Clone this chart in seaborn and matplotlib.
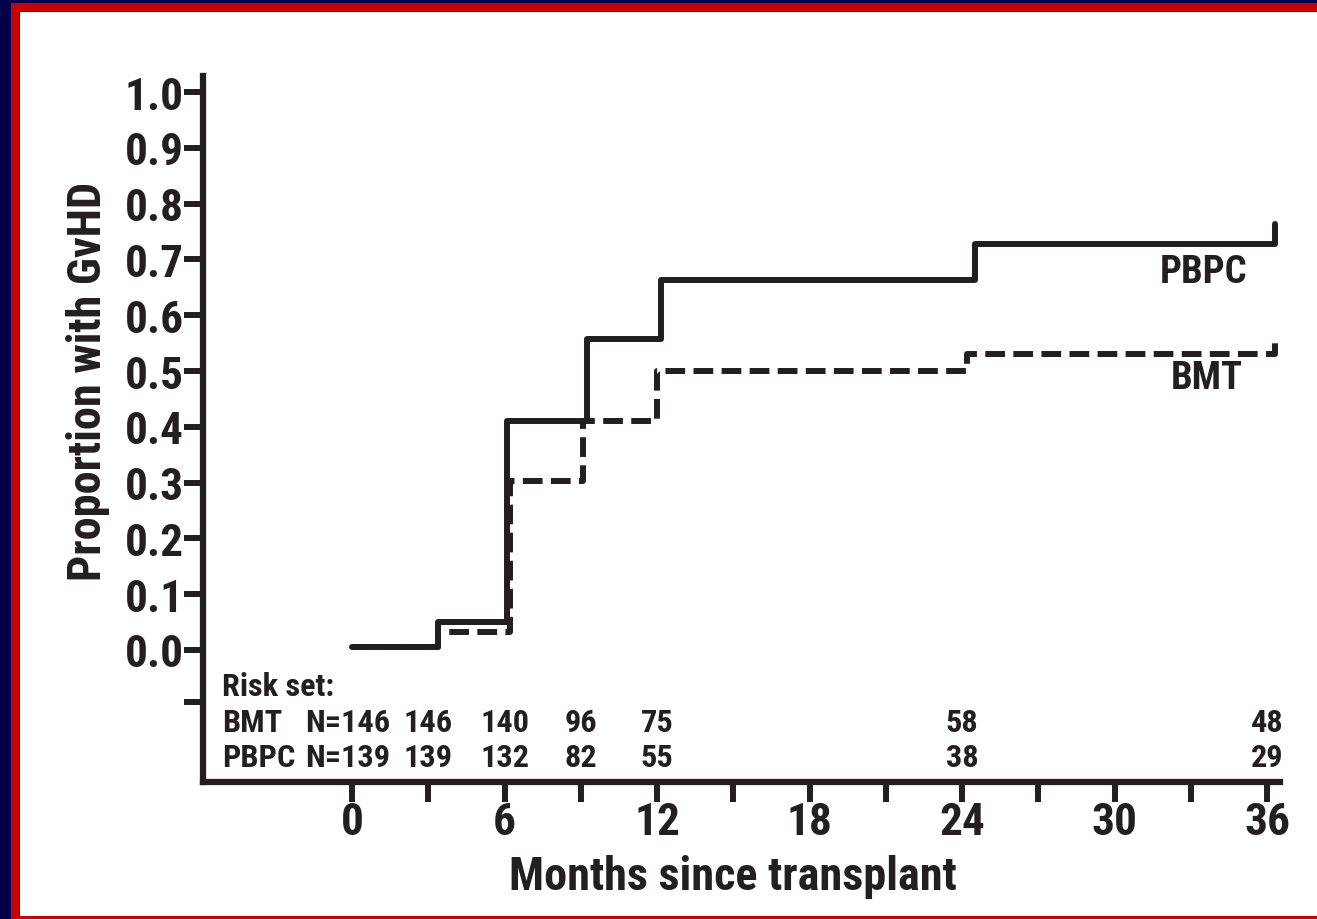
import numpy as np
import pandas as pd
import seaborn as sns
import matplotlib
matplotlib.use("Agg")
import matplotlib.pyplot as plt
from matplotlib import font_manager
from matplotlib.patches import Rectangle

# ---------------- data ----------------
pbpc_months = [0, 3.4, 6.1, 9.25, 12.15, 24.5, 36.3]
pbpc_prop = [0.005, 0.05, 0.41, 0.557, 0.663, 0.728, 0.763]
bmt_months = [0, 3.4, 6.2, 9.1, 12.0, 24.2, 36.3]
bmt_prop = [0.005, 0.032, 0.303, 0.41, 0.50, 0.53, 0.561]

risk_months = [0, 3, 6, 9, 12, 24, 36]
bmt_risk = [146, 146, 140, 96, 75, 58, 48]
pbpc_risk = [139, 139, 132, 82, 55, 38, 29]

y_ticks = [0.0, 0.1, 0.2, 0.3, 0.4, 0.5, 0.6, 0.7, 0.8, 0.9, 1.0]
y_ticklabels = ["0.0", "0.1", "0.2", "0.3", "0.4", "0.5", "0.6", "0.7", "0.8", "0.9", "1.0"]
x_ticks = [0, 3, 6, 9, 12, 15, 18, 21, 24, 27, 30, 33, 36]
x_ticklabels = ["0", "", "6", "", "12", "", "18", "", "24", "", "30", "", "36"]

# ---------------- style ----------------
sns.set_theme(style="white")
names = {f.name for f in font_manager.fontManager.ttflist}
FAM, STRETCH = None, "normal"
for cand in ["Liberation Sans Narrow", "Roboto Condensed", "Open Sans Condensed",
             "Noto Sans Condensed", "Liberation Sans", "Roboto", "Arial"]:
    if cand in names:
        FAM = cand
        break
if FAM is None:
    FAM, STRETCH = "DejaVu Sans", "condensed"
plt.rcParams["font.family"] = [FAM, "DejaVu Sans"]
plt.rcParams["font.weight"] = "bold"
plt.rcParams["font.stretch"] = STRETCH

INK = "#231f20"
W, H = 1317, 920
fig = plt.figure(figsize=(W / 100, H / 100), dpi=100)
fig.patch.set_facecolor("white")


def rect(x0, y0, x1, y1, color):
    fig.add_artist(Rectangle((x0 / W, 1 - y1 / H), (x1 - x0) / W, (y1 - y0) / H,
                             transform=fig.transFigure, color=color, lw=0, zorder=10))


rect(0, 0, 11, H, "#00004a")
rect(0, 0, W, 4, "#00004a")
rect(11, 4, 19, H, "#cc0000")
rect(11, 4, W, 12, "#cc0000")
rect(11, 917, W, H, "#cc0000")
rect(19, 12, 20, 917, "#5a0010")
rect(19, 12, W, 13, "#5a0010")

ax = fig.add_axes([203 / W, 1 - 783 / H, (1280 - 203) / W, (783 - 77) / H])
ax.set_facecolor("white")

df_p = pd.DataFrame({"month": pbpc_months, "prop": pbpc_prop})
df_b = pd.DataFrame({"month": bmt_months, "prop": bmt_prop})

sns.lineplot(data=df_b, x="month", y="prop", ax=ax, color=INK, lw=4.3,
             drawstyle="steps-post", linestyle=(0, (3.3, 1.4)), estimator=None,
             sort=False, zorder=3)
sns.lineplot(data=df_p, x="month", y="prop", ax=ax, color=INK, lw=4.3,
             drawstyle="steps-post", estimator=None, sort=False, zorder=4)

ax.set_xlim(-5.86, 36.5)
ax.set_ylim(-0.237, 1.029)

for s in ["top", "right"]:
    ax.spines[s].set_visible(False)
for s in ["left", "bottom"]:
    ax.spines[s].set_color(INK)
    ax.spines[s].set_linewidth(4.5)

ax.set_yticks([-0.093] + y_ticks)
ax.set_yticklabels([""] + y_ticklabels, fontsize=35, fontweight="bold", color=INK)
ax.set_xticks(x_ticks)
ax.set_xticklabels(x_ticklabels, fontsize=35, fontweight="bold", color=INK)
ax.tick_params(axis="y", direction="out", length=13.7, width=4.3, color=INK, pad=0, left=True)
ax.tick_params(axis="x", direction="out", length=14.4, width=4.3, color=INK, pad=-1, bottom=True)
ax.grid(False)
ax.set_xlabel("")
ax.set_ylabel("")

xlab = fig.text(733 / W, 1 - 890 / H, "Months since transplant", ha="center", va="baseline",
                fontsize=35, fontweight="bold", color=INK)
ylab = fig.text(88 / W, 1 - 381 / H, "Proportion with GvHD", rotation=90, ha="center",
                va="center", fontsize=35, fontweight="bold", color=INK)

# curve labels
t_pbpc = ax.text(33.5, 0.679, "PBPC", ha="center", va="center", fontsize=32, fontweight="bold", color=INK)
t_bmt = ax.text(33.6, 0.489, "BMT", ha="center", va="center", fontsize=32, fontweight="bold", color=INK)

# risk set table
rs = 23
risk_texts = []
risk_texts.append(ax.text(-5.11, -0.065, "Risk set:", ha="left", va="center", fontsize=rs, color=INK))
risk_texts.append(ax.text(-5.11, -0.129, "BMT", ha="left", va="center", fontsize=rs, color=INK))
risk_texts.append(ax.text(-5.11, -0.192, "PBPC", ha="left", va="center", fontsize=rs, color=INK))
n_ref = None
for i, (m, b, p) in enumerate(zip(risk_months, bmt_risk, pbpc_risk)):
    if i == 0:
        tb = ax.text(m + 1.5, -0.129, f"N={b}", ha="right", va="center", fontsize=rs, color=INK)
        tp = ax.text(m + 1.5, -0.192, f"N={p}", ha="right", va="center", fontsize=rs, color=INK)
        n_ref = tb
    else:
        tb = ax.text(m, -0.129, f"{b}", ha="center", va="center", fontsize=rs, color=INK)
        tp = ax.text(m, -0.192, f"{p}", ha="center", va="center", fontsize=rs, color=INK)
    risk_texts += [tb, tp]

# ---- fit text sizes to the reference's pixel widths (font-independent) ----
fig.canvas.draw()
r = fig.canvas.get_renderer()


def scale_for(t, target):
    w = t.get_window_extent(r).width
    return target / w


# tick labels: "1.0" ~59 px wide
ref_tick = [t for t in ax.get_yticklabels() if t.get_text() == "1.0"][0]
k = scale_for(ref_tick, 59)
tick_fs = min(35 * k, 35)
ax.tick_params(axis="both", labelsize=tick_fs)

# axis labels: x label ~447 px wide
k = scale_for(xlab, 447)
lab_fs = min(35 * k, 35)
xlab.set_fontsize(lab_fs)
ylab.set_fontsize(lab_fs)

# curve labels: "PBPC" ~88 px
k = scale_for(t_pbpc, 88)
c_fs = min(32 * k, 32)
t_pbpc.set_fontsize(c_fs)
t_bmt.set_fontsize(c_fs)

# risk table: "N=146" ~85 px
k = scale_for(n_ref, 85)
r_fs = min(rs * k, 24)
for t in risk_texts:
    t.set_fontsize(r_fs)

fig.savefig("out.png", dpi=100, facecolor="white")
